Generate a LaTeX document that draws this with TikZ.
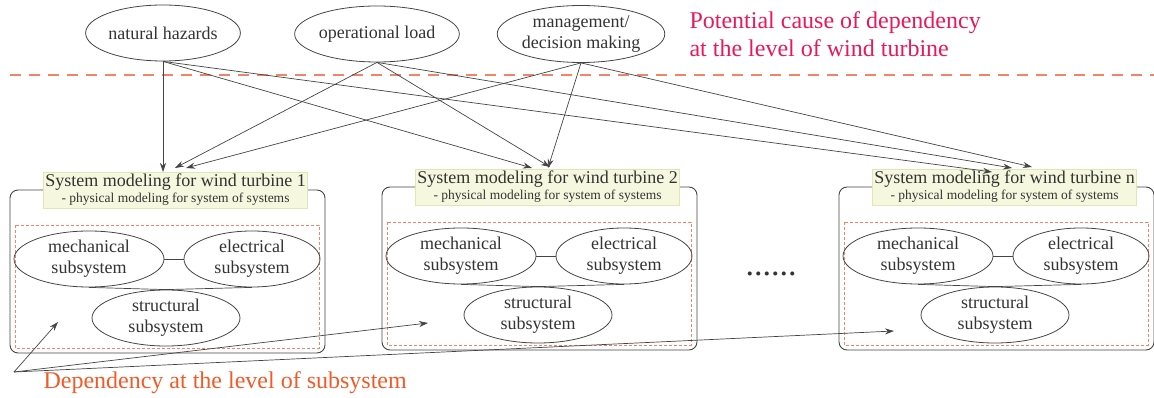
\documentclass[tikz,border=0pt]{standalone}
\usepackage{fontspec}
\setmainfont{Liberation Serif}
\usetikzlibrary{shapes.geometric,arrows.meta}
\definecolor{ln}{HTML}{444444}
\definecolor{txt}{HTML}{333333}
\definecolor{crim}{HTML}{E8185A}
\definecolor{orng}{HTML}{F25A28}
\definecolor{salm}{HTML}{F08466}
\definecolor{tfill}{HTML}{F5F8DE}
\definecolor{tbord}{HTML}{DFE7B4}
\tikzset{
  ell/.style={ellipse, draw=ln, line width=0.8pt, inner sep=0pt, align=center, text=txt,
    font=\fontsize{18}{21}\selectfont},
  arr/.style={draw=ln, line width=0.7pt, -{Stealth[length=9pt,width=6pt]}},
  outerbox/.style={draw=ln, line width=0.9pt, rounded corners=8pt},
  innerbox/.style={draw=salm, line width=0.8pt, dash pattern=on 3pt off 2pt},
  titlebox/.style={rectangle, fill=tfill, draw=tbord, line width=0.6pt, minimum width=264pt,
    minimum height=36pt, inner sep=0pt, align=center, text=txt},
  link/.style={draw=ln, line width=0.7pt},
}
\newcommand\turbineblock[4]{%
  \begin{scope}[shift={(#2,#3)}]
    \draw[outerbox] (0,0) rectangle (315,163);
    \draw[innerbox] (5,35) rectangle (309,158);
    \node[titlebox] (#1title) at (165.5,0)
      {\fontsize{18}{19}\selectfont System modeling for wind turbine #4\\[1.5pt]
       \fontsize{13.5}{15}\selectfont - physical modeling for system of systems};
    \node[ell, minimum width=150pt, minimum height=56pt] (#1mech) at (79,69) {mechanical\\subsystem};
    \node[ell, minimum width=136pt, minimum height=56pt] (#1elec) at (242,69) {electrical\\subsystem};
    \node[ell, minimum width=148pt, minimum height=56pt] (#1str) at (156,128) {structural\\subsystem};
    \draw[link] (#1mech.east) -- (#1elec.west);
    \draw[link] (#1mech.south) -- (#1str.north);
    \draw[link] (#1elec.south) -- (#1str.north);
  \end{scope}}
\begin{document}
\begin{tikzpicture}[x=1pt,y=-1pt]
\useasboundingbox (0,0) rectangle (1154,398);

% top causes
\node[ell, minimum width=150pt, minimum height=56pt] (nh) at (163,33) {natural hazards};
\node[ell, minimum width=150pt, minimum height=56pt] (ol) at (377,34) {operational load};
\node[ell, minimum width=150pt, minimum height=57pt] (mg) at (581,34) {management/\\decision making};

\node[anchor=west, align=left, text=crim, font=\fontsize{24}{28}\selectfont] (pot) at (686,34)
  {Potential cause of dependency\\at the level of wind turbine};

\coordinate (dl) at (10,75);
\coordinate (dr) at (1154,75);
\draw[draw=salm, line width=1.1pt, dash pattern=on 11pt off 8pt] (dl) -- (dr);

% turbines
\turbineblock{a}{10}{190}{1}
\turbineblock{b}{382}{187}{2}
\turbineblock{n}{839}{187}{n}

\node[anchor=base, text=txt, font=\fontsize{34}{34}\selectfont] (dots) at (771,276) {......};

% arrow end points
\coordinate (a1) at (163,172);
\coordinate (a2) at (175,168);
\coordinate (a3) at (186,168);
\coordinate (b1) at (532,168);
\coordinate (b2) at (550,167);
\coordinate (b3) at (548,168);
\coordinate (n1) at (992,172);
\coordinate (n2) at (1012,168);
\coordinate (n3) at (1032,167);

\draw[arr] (nh.south) -- (a1);
\draw[arr] (nh.south) -- (b1);
\draw[arr] (nh.south) -- (n1);
\draw[arr] (ol.south) -- (a2);
\draw[arr] (ol.south) -- (b2);
\draw[arr] (ol.south) -- (n2);
\draw[arr] (mg.south) -- (a3);
\draw[arr] (mg.south) -- (b3);
\draw[arr] (mg.south) -- (n3);

% subsystem dependency
\coordinate (src) at (14,372);
\coordinate (d1) at (58,322);
\coordinate (d2) at (428,323);
\coordinate (d3) at (894,331);
\draw[arr] (src) -- (d1);
\draw[arr] (src) -- (d2);
\draw[arr] (src) -- (d3);
\node[anchor=west, text=orng, font=\fontsize{24}{28}\selectfont] (dep) at (40,383)
  {Dependency at the level of subsystem};
\end{tikzpicture}
\end{document}
